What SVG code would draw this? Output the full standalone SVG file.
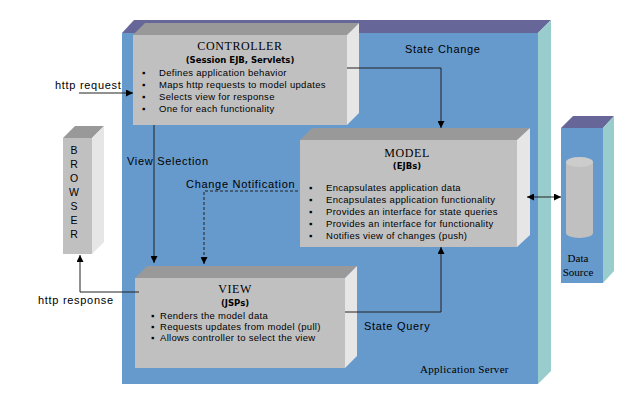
<svg xmlns="http://www.w3.org/2000/svg" width="640" height="408" viewBox="0 0 640 408">
<defs>
<style>
.front{fill:#c0c0c0}
.top{fill:#999999}
.side{fill:#e6e6e6}
.sfront{fill:#6699cc}
.stop{fill:#666699}
.sside{fill:#99cccc}
.title{font-family:"Liberation Serif",serif;font-size:12px;letter-spacing:0.6px;fill:#000;text-anchor:middle}
.sub{font-family:"DejaVu Sans",sans-serif;font-size:8.5px;font-weight:bold;fill:#000;text-anchor:middle}
.item{font-family:"Liberation Sans",sans-serif;font-size:9.5px;letter-spacing:0.3px;fill:#000}
.lbl{font-family:"Liberation Sans",sans-serif;font-size:11px;letter-spacing:0.7px;fill:#000}
.serif{font-family:"Liberation Serif",serif;font-size:11px;fill:#000}
.con{fill:none;stroke:#222;stroke-width:1}
.dash{stroke-dasharray:3,2}
</style>
<marker id="ah" viewBox="0 0 10 10" refX="10" refY="5" markerWidth="7" markerHeight="7" orient="auto-start-reverse" markerUnits="userSpaceOnUse">
<path d="M0,0 L10,5 L0,10 Z" fill="#000"/>
</marker>
</defs>
<rect width="640" height="408" fill="#fff"/>

<g id="appserver">
<polygon class="stop" points="122,33 134,20 551,20 538,33"/>
<polygon class="sside" points="538,33 551,20 551,371 538,384"/>
<rect class="sfront" x="122" y="33" width="416" height="351"/>
<text class="serif" x="420" y="373" font-size="12" letter-spacing="0.3">Application Server</text>
</g>

<g id="browser">
<polygon class="top" points="63,138 75,126 104,126 92,138"/>
<polygon class="side" points="92,138 104,126 104,242 92,254"/>
<rect class="front" x="63" y="138" width="29" height="116"/>
<g font-family="Liberation Sans,sans-serif" font-size="10.5" text-anchor="middle">
<text x="74" y="154">B</text><text x="74" y="168">R</text><text x="74" y="182">O</text><text x="74" y="196">W</text><text x="74" y="210">S</text><text x="74" y="224">E</text><text x="74" y="238">R</text>
</g>
</g>

<g id="datasource">
<polygon class="stop" points="561,128 573,116 614,116 603,128"/>
<polygon class="sside" points="603,128 614,116 614,271 603,283"/>
<rect class="sfront" x="561" y="128" width="42" height="155"/>
<path d="M566,162 L566,233 A13.5,5 0 0 0 593,233 L593,162 Z" fill="#c0c0c0"/>
<ellipse cx="579.5" cy="162" rx="13.5" ry="5" fill="#cccccc"/>
<text class="serif" x="578" y="262" text-anchor="middle">Data</text>
<text class="serif" x="578" y="276" text-anchor="middle">Source</text>
</g>

<g id="controller">
<polygon class="top" points="133,35 145,23 359,23 347,35"/>
<polygon class="side" points="347,35 359,23 359,113 347,125"/>
<rect class="front" x="133" y="35" width="214" height="90"/>
<text class="title" x="240" y="50">CONTROLLER</text>
<text class="sub" x="240" y="63">(Session EJB, Servlets)</text>
<g class="item">
<text x="142" y="76">▪</text><text x="159" y="76">Defines application behavior</text>
<text x="142" y="88">▪</text><text x="159" y="88">Maps http requests to model updates</text>
<text x="142" y="100">▪</text><text x="159" y="100">Selects view for response</text>
<text x="142" y="112">▪</text><text x="159" y="112">One for each functionality</text>
</g>
</g>

<g id="model">
<polygon class="top" points="300,140 312,128 530,128 517,140"/>
<polygon class="side" points="517,140 530,128 530,235 517,247"/>
<rect class="front" x="300" y="140" width="217" height="107"/>
<text class="title" x="407" y="157">MODEL</text>
<text class="sub" x="407" y="169">(EJBs)</text>
<g class="item">
<text x="309" y="191">▪</text><text x="326" y="191">Encapsulates application data</text>
<text x="309" y="203">▪</text><text x="326" y="203">Encapsulates application functionality</text>
<text x="309" y="215">▪</text><text x="326" y="215">Provides an interface for state queries</text>
<text x="309" y="227">▪</text><text x="326" y="227">Provides an interface for functionality</text>
<text x="309" y="239">▪</text><text x="326" y="239">Notifies view of changes (push)</text>
</g>
</g>

<g id="view">
<polygon class="top" points="135,278 147,266 357,266 345,278"/>
<polygon class="side" points="345,278 357,266 357,356 345,368"/>
<rect class="front" x="135" y="278" width="210" height="90"/>
<text class="title" x="235" y="293">VIEW</text>
<text class="sub" x="235" y="306">(JSPs)</text>
<g class="item">
<text x="151" y="319">▪</text><text x="160" y="319">Renders the model data</text>
<text x="151" y="330">▪</text><text x="160" y="330">Requests updates from model (pull)</text>
<text x="151" y="341">▪</text><text x="160" y="341">Allows controller to select the view</text>
</g>
</g>

<g id="connectors">
<path class="con" d="M79,93 L133,93" marker-end="url(#ah)"/>
<text class="lbl" x="55" y="89">http request</text>
<path class="con" d="M154,125 L154,263" stroke="#3a5a88" marker-end="url(#ah)"/>
<text class="lbl" x="127" y="165">View Selection</text>
<path class="con" d="M139,292 L80,292 L80,255" marker-end="url(#ah)"/>
<text class="lbl" x="38" y="304">http response</text>
<path class="con dash" d="M298,191 L204,191 L204,264" marker-end="url(#ah)"/>
<text class="lbl" x="186" y="188">Change Notification</text>
<path class="con" d="M347,68 L441,68 L441,128" marker-end="url(#ah)"/>
<text class="lbl" x="405" y="53">State Change</text>
<path class="con" d="M345,312 L441,312 L441,247" marker-end="url(#ah)"/>
<text class="lbl" x="364" y="330">State Query</text>
<path class="con" d="M527,197 L561,197" marker-start="url(#ah)" marker-end="url(#ah)"/>
</g>
</svg>
